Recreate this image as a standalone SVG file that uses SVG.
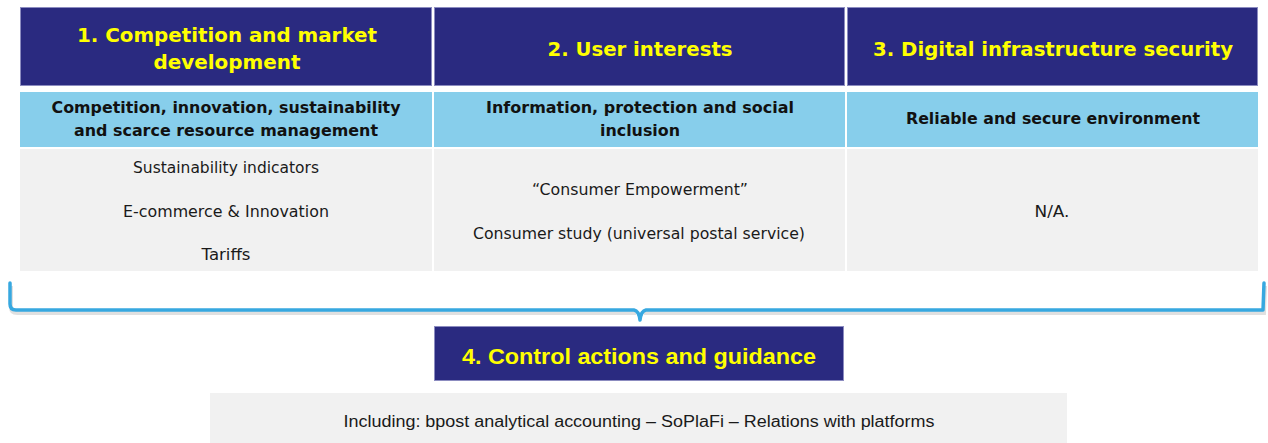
<svg xmlns="http://www.w3.org/2000/svg" width="1268" height="443" viewBox="0 0 1268 443">
  <style>
    .head { fill: #2a2a80; stroke: #8c8cc0; stroke-width: 1; }
    .sub { fill: #87ceeb; }
    .body { fill: #f1f1f1; }
    .ht { font-family: "DejaVu Sans", Verdana, sans-serif; font-weight: bold; font-size: 20px; fill: #ffff00; text-anchor: middle; }
    .ct { font-family: "Liberation Sans", Arial, sans-serif; font-weight: bold; font-size: 22px; fill: #ffff00; text-anchor: middle; }
    .st { font-family: "DejaVu Sans", Verdana, sans-serif; font-weight: bold; font-size: 15.5px; fill: #111111; text-anchor: middle; }
    .bt { font-family: "DejaVu Sans", Verdana, sans-serif; font-size: 15.5px; fill: #1a1a1a; text-anchor: middle; }
    .nt { font-family: "Liberation Sans", Arial, sans-serif; font-size: 16px; fill: #1a1a1a; text-anchor: middle; }
    .brace { fill: none; stroke: #37a8e0; stroke-width: 3.5; stroke-linejoin: round; stroke-linecap: round; }
    .brace-shadow { fill: none; stroke: #000000; stroke-opacity: 0.12; stroke-width: 4; }
  </style>

  <!-- Column 1 -->
  <g id="col1-head">
    <rect class="head" x="20.5" y="7.5" width="411" height="78"/>
    <text class="ht" x="227" y="42" textLength="300" lengthAdjust="spacingAndGlyphs">1. Competition and market</text>
    <text class="ht" x="227" y="69" textLength="147" lengthAdjust="spacingAndGlyphs">development</text>
  </g>
  <g id="col1-sub">
    <rect class="sub" x="20" y="92" width="412" height="55"/>
    <text class="st" x="226" y="113" textLength="349" lengthAdjust="spacingAndGlyphs">Competition, innovation, sustainability</text>
    <text class="st" x="226" y="136" textLength="304" lengthAdjust="spacingAndGlyphs">and scarce resource management</text>
  </g>
  <g id="col1-body">
    <rect class="body" x="20" y="149" width="412" height="122"/>
    <text class="bt" x="226" y="173" textLength="186" lengthAdjust="spacingAndGlyphs">Sustainability indicators</text>
    <text class="bt" x="226" y="217" textLength="206" lengthAdjust="spacingAndGlyphs">E-commerce &amp; Innovation</text>
    <text class="bt" x="226" y="260" textLength="49" lengthAdjust="spacingAndGlyphs">Tariffs</text>
  </g>

  <!-- Column 2 -->
  <g id="col2-head">
    <rect class="head" x="434.5" y="7.5" width="410" height="78"/>
    <text class="ht" x="640" y="56" textLength="185" lengthAdjust="spacingAndGlyphs">2. User interests</text>
  </g>
  <g id="col2-sub">
    <rect class="sub" x="434" y="92" width="411" height="55"/>
    <text class="st" x="640" y="113" textLength="308" lengthAdjust="spacingAndGlyphs">Information, protection and social</text>
    <text class="st" x="640" y="136" textLength="80" lengthAdjust="spacingAndGlyphs">inclusion</text>
  </g>
  <g id="col2-body">
    <rect class="body" x="434" y="149" width="411" height="122"/>
    <text class="bt" x="640" y="195" textLength="216" lengthAdjust="spacingAndGlyphs">“Consumer Empowerment”</text>
    <text class="bt" x="639" y="239" textLength="332" lengthAdjust="spacingAndGlyphs">Consumer study (universal postal service)</text>
  </g>

  <!-- Column 3 -->
  <g id="col3-head">
    <rect class="head" x="847.5" y="7.5" width="410" height="78"/>
    <text class="ht" x="1053" y="56" textLength="360" lengthAdjust="spacingAndGlyphs">3. Digital infrastructure security</text>
  </g>
  <g id="col3-sub">
    <rect class="sub" x="847" y="92" width="411" height="55"/>
    <text class="st" x="1053" y="124" textLength="294" lengthAdjust="spacingAndGlyphs">Reliable and secure environment</text>
  </g>
  <g id="col3-body">
    <rect class="body" x="847" y="149" width="411" height="122"/>
    <text class="bt" x="1052" y="217" textLength="35" lengthAdjust="spacingAndGlyphs">N/A.</text>
  </g>

  <!-- Brace gathering the three columns into the control box -->
  <g id="connectors">
    <path class="brace-shadow" d="M11,286 L11,307 Q11,313 17,313 L636,313 M644,313 L1264,313 L1265,286"/>
    <path class="brace" d="M10,283 L10,304 Q10,310 16,310 L634,310 Q639,311 640,320 Q641,311 646,310 L1263,310 L1264,283"/>
  </g>

  <!-- Control actions -->
  <g id="control">
    <rect class="head" x="434.5" y="326.5" width="409" height="54"/>
    <text class="ct" x="639" y="364" textLength="354" lengthAdjust="spacingAndGlyphs">4. Control actions and guidance</text>
  </g>
  <g id="control-detail">
    <rect class="body" x="210" y="393" width="857" height="50"/>
    <text class="nt" x="639" y="427" textLength="591" lengthAdjust="spacingAndGlyphs">Including: bpost analytical accounting – SoPlaFi – Relations with platforms</text>
  </g>
</svg>
